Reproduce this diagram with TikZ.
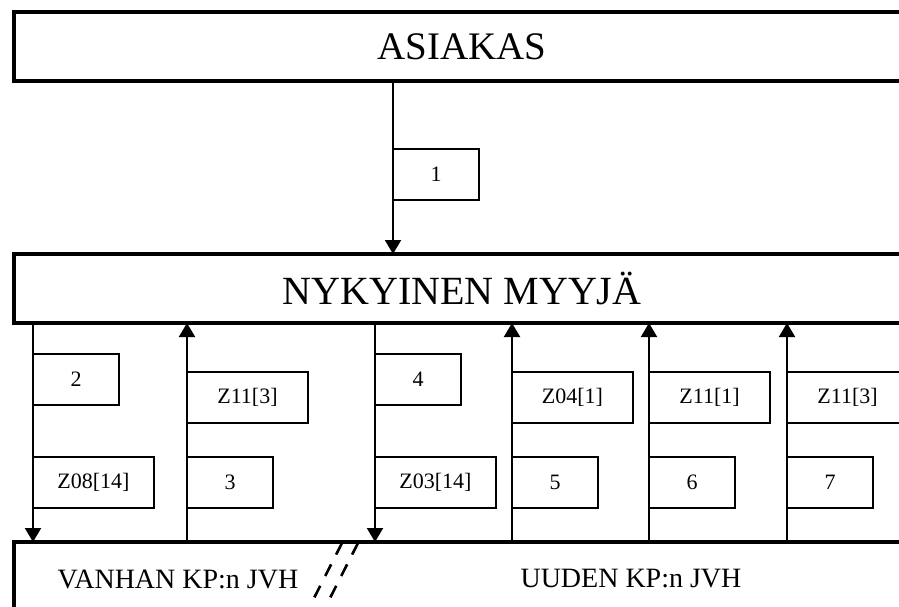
\documentclass[tikz,border=0pt]{standalone}
\usepackage{fontspec}
\setmainfont{Liberation Serif}
\usetikzlibrary{arrows.meta}
\begin{document}
\begin{tikzpicture}[x=1pt,y=-1pt,>={Triangle[length=14pt,width=16pt]},
    big/.style={draw,line width=3.5pt,minimum width=896pt,minimum height=69pt,anchor=north west,inner sep=0pt,outer sep=0pt},
    lab/.style={draw,line width=1.8pt,minimum height=51pt,anchor=north west,inner sep=0pt,outer sep=0pt,font=\fontsize{22}{22}\selectfont},
    narrow/.style={lab,minimum width=86pt},
    wide/.style={lab,minimum width=121pt},
    flow/.style={->,line width=2pt}]
  \useasboundingbox (0,0) rectangle (899,606);
  \clip (0,0) rectangle (899,606);
  \node[big,font=\fontsize{39}{39}\selectfont] (asiakas) at (14,12) {ASIAKAS};
  \node[big,font=\fontsize{40}{40}\selectfont] (myyja) at (14,254) {NYKYINEN MYYJÄ};
  \node[big,minimum height=90pt] (jvh) at (14,542) {};
  \node[anchor=base,font=\fontsize{28}{28}\selectfont] (vanhan) at (178,588) {VANHAN KP:n JVH};
  \node[anchor=base,font=\fontsize{28}{28}\selectfont] (uuden) at (631,587) {UUDEN KP:n JVH};
  \draw[dashed,dash pattern=on 13pt off 11pt,line width=2.6pt] (342,543) -- (312,602);
  \draw[dashed,dash pattern=on 13pt off 11pt,line width=2.6pt] (358,543) -- (328,602);
  \foreach \x [count=\j] in {33,187,375,512,649,787} \coordinate (c\j) at (\x,0);
  \coordinate (c0) at (393,0);
  \draw[flow] (c0 |- asiakas.south) -- (c0 |- myyja.north);
  \foreach \j in {1,3} \draw[flow] (c\j |- myyja.south) -- (c\j |- jvh.north);
  \foreach \j in {2,4,5,6} \draw[flow] (c\j |- jvh.north) -- (c\j |- myyja.south);
  \node[narrow] (l1) at (393,149) {1};
  \node[narrow] (l2) at (33,354) {2};
  \node[wide] (z08) at (33,457) {Z08[14]};
  \node[wide] (z11a) at (187,372) {Z11[3]};
  \node[narrow] (l3) at (187,457) {3};
  \node[narrow] (l4) at (375,354) {4};
  \node[wide] (z03) at (375,457) {Z03[14]};
  \node[wide] (z04) at (512,372) {Z04[1]};
  \node[narrow] (l5) at (512,457) {5};
  \node[wide] (z11b) at (649,372) {Z11[1]};
  \node[narrow] (l6) at (649,457) {6};
  \node[wide] (z11c) at (787,372) {Z11[3]};
  \node[narrow] (l7) at (787,457) {7};
\end{tikzpicture}
\end{document}
